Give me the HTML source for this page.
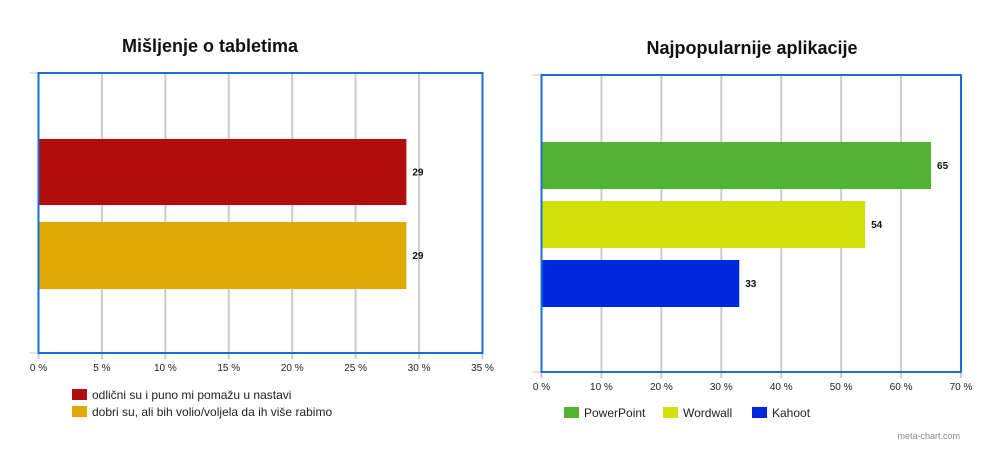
<!DOCTYPE html>
<html><head><meta charset="utf-8"><style>
body{margin:0;background:#fff;width:1000px;height:470px;overflow:hidden;font-family:"Liberation Sans",sans-serif}
</style></head><body>
<svg width="1000" height="470" xmlns="http://www.w3.org/2000/svg">
<g id="left"></g>
<g id="right"></g>
<text x="960" y="439" font-size="9" fill="#888" text-anchor="end">meta-chart.com</text>
</svg>
<script>
const leftCats = ["odlični su i puno mi pomažu u nastavi", "dobri su, ali bih volio/voljela da ih više rabimo"];
const leftVals = [29, 29];
const leftTicks = [0, 5, 10, 15, 20, 25, 30, 35];
const rightCats = ["PowerPoint", "Wordwall", "Kahoot"];
const rightVals = [65, 54, 33];
const rightTicks = [0, 10, 20, 30, 40, 50, 60, 70];
const NS = "http://www.w3.org/2000/svg";
function mk(p, t, a, txt){const e=document.createElementNS(NS,t);for(const k in a)e.setAttribute(k,a[k]);if(txt!==undefined)e.textContent=txt;p.appendChild(e);return e;}
function chart(g, cfg){
  const {x0,x1,y0,y1,max,ticks,vals,cats,colors,bars,title,tx,ty,tickY}=cfg;
  const sx=v=>x0+(x1-x0)*v/max;
  const t=mk(g,'text',{x:tx,y:ty,'font-size':18,'font-weight':'bold','text-anchor':'middle',fill:'#111'},title);
  
  
  ticks.forEach(v=>{
    const l=mk(g,'line',{x1:sx(v),x2:sx(v),y1:y0,y2:y1+6,stroke:'#ccc','stroke-width':2});
    
    
    const tl=mk(g,'text',{x:sx(v),y:tickY,'font-size':10,'text-anchor':'middle',fill:'#222'},v+' %');
    
    
  });
  mk(g,'line',{x1:x0-9,x2:x0,y1:y0,y2:y0,stroke:'#bcd','stroke-width':1});
  mk(g,'line',{x1:x0-9,x2:x0,y1:y1,y2:y1,stroke:'#bcd','stroke-width':1});
  vals.forEach((v,i)=>{
    const [by,bh]=bars[i];
    const r=mk(g,'rect',{x:x0,y:by,width:sx(v)-x0,height:bh,fill:colors[i]});
    
    
    const vl=mk(g,'text',{x:sx(v)+6,y:by+bh/2+3.5,'font-size':10,'font-weight':'bold',fill:'#111'},String(v));
    
    
  });
  const b=mk(g,'rect',{x:x0,y:y0,width:x1-x0,height:y1-y0,fill:'none',stroke:'#1a6fd0','stroke-width':2});
  
  
  cfg.legend.forEach((p,i)=>{
    const s=mk(g,'rect',{x:p[0],y:p[1],width:15,height:11,fill:colors[i]});
    
    
    const lt=mk(g,'text',{x:p[0]+20,y:p[1]+10,'font-size':p[2],fill:'#222'},cats[i]);
    
    
  });
}
chart(document.getElementById('left'),{x0:38.5,x1:482.5,y0:73,y1:353,max:35,ticks:leftTicks,vals:leftVals,cats:leftCats,
  colors:['#b20e0e','#e0aa06'],bars:[[139,66],[222,67]],title:'Mišljenje o tabletima',tx:210,ty:52,tickY:371,
  legend:[[72,389,12],[72,406,12]]});
chart(document.getElementById('right'),{x0:541.5,x1:961,y0:75,y1:372,max:70,ticks:rightTicks,vals:rightVals,cats:rightCats,
  colors:['#52b233','#d4e00c','#0028dd'],bars:[[142,47],[201,47],[260,47]],title:'Najpopularnije aplikacije',tx:752,ty:54,tickY:390,
  legend:[[564,407,12],[663,407,12],[752,407,12]]});
</script>
</body></html>
